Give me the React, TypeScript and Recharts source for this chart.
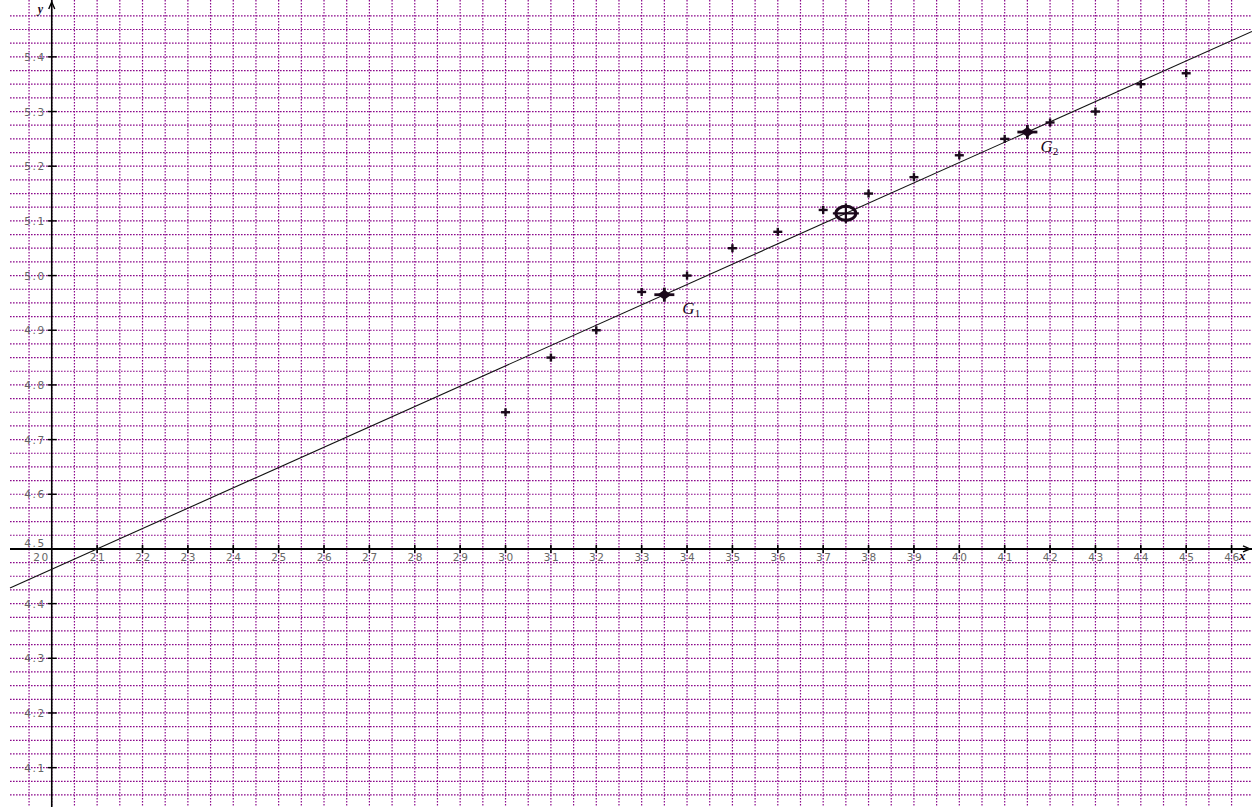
import React from 'react';
import { ScatterChart, Scatter, XAxis, YAxis, CartesianGrid, ReferenceLine, ReferenceDot } from 'recharts';

// observed points
const xValues = [30, 31, 32, 33, 34, 35, 36, 37, 38, 39, 40, 41, 42, 43, 44, 45];
const yValues = [4.75, 4.85, 4.9, 4.97, 5.0, 5.05, 5.08, 5.12, 5.15, 5.18, 5.22, 5.25, 5.28, 5.3, 5.35, 5.37];

const xTickLabels = [20, 21, 22, 23, 24, 25, 26, 27, 28, 29, 30, 31, 32, 33, 34, 35, 36, 37, 38, 39, 40, 41, 42, 43, 44, 45, 46];
const yTickLabels = [4.1, 4.2, 4.3, 4.4, 4.5, 4.6, 4.7, 4.8, 4.9, 5.0, 5.1, 5.2, 5.3, 5.4];

const X_MIN = 19.08;
const X_MAX = 46.45;
const Y_MIN = 4.028;
const Y_MAX = 5.504;
const ORIGIN_X = 20;
const ORIGIN_Y = 4.5;

const GRID = '#8c0a8c';
const INK = '#1a081a';
const LABEL = '#666';

const points = xValues.map((x, i) => ({ x, y: yValues[i] }));

const mean = (arr: { x: number; y: number }[]) => ({
  x: arr.reduce((s, p) => s + p.x, 0) / arr.length,
  y: arr.reduce((s, p) => s + p.y, 0) / arr.length,
});

const g1 = mean(points.slice(0, 8));
const g2 = mean(points.slice(8));
const g = mean(points);
const slope = (g2.y - g1.y) / (g2.x - g1.x);
const lineAt = (x: number) => g1.y + slope * (x - g1.x);

// dotted grid every 0.5 on x and 0.025 on y
const vGrid: number[] = [];
for (let k = 39; k <= 93; k++) vGrid.push(k / 2);
const hGrid: number[] = [];
for (let k = 162; k <= 219; k++) hGrid.push(Math.round(k * 25) / 1000);

const labelFont = { fontFamily: 'DejaVu Sans', fontSize: 10.5, fill: LABEL, letterSpacing: 1.6 };
const serif = { fontFamily: 'Liberation Serif', fontStyle: 'italic' as const };

const Cross = (props: any) => {
  const { cx, cy } = props;
  return (
    <g>
      <line x1={cx - 4.5} x2={cx + 4.5} y1={cy} y2={cy} stroke={INK} strokeWidth={2.4} />
      <line x1={cx} x2={cx} y1={cy - 4} y2={cy + 4} stroke={INK} strokeWidth={2.4} />
    </g>
  );
};

const bigMark = (name: string, sub: string, dx: number, dy: number) => (props: any) => {
  const { cx, cy } = props;
  return (
    <g>
      <line x1={cx - 10} x2={cx + 10} y1={cy} y2={cy} stroke={INK} strokeWidth={2.8} />
      <line x1={cx} x2={cx} y1={cy - 7} y2={cy + 7} stroke={INK} strokeWidth={2.8} />
      <path d={`M${cx - 7},${cy} L${cx},${cy - 5} L${cx + 7},${cy} L${cx},${cy + 5} Z`} fill={INK} />
      <text x={cx + dx} y={cy + dy} {...serif} fontSize={17} fill={INK}>
        {name}
        <tspan fontSize={11} dy={3} fontStyle="normal">{sub}</tspan>
      </text>
    </g>
  );
};

const meanMark = (props: any) => {
  const { cx, cy } = props;
  return (
    <g>
      <ellipse cx={cx} cy={cy} rx={10} ry={7} fill="none" stroke={INK} strokeWidth={3} />
      <line x1={cx - 13} x2={cx + 13} y1={cy} y2={cy} stroke={INK} strokeWidth={2.2} />
      <line x1={cx} x2={cx} y1={cy - 10} y2={cy + 10} stroke={INK} strokeWidth={2.2} />
    </g>
  );
};

const xTick = (v: number) => (props: any) => {
  const { cx, cy } = props;
  const first = v === ORIGIN_X;
  return (
    <g>
      {!first && <line x1={cx} x2={cx} y1={cy - 4} y2={cy + 4} stroke="#000" strokeWidth={1.6} />}
      <text x={first ? cx - 2 : cx + 1} y={cy + 12} textAnchor={first ? 'end' : 'middle'} {...labelFont}>
        {v}
      </text>
    </g>
  );
};

const yTick = (v: number) => (props: any) => {
  const { cx, cy } = props;
  const onAxis = v === ORIGIN_Y;
  return (
    <g>
      {!onAxis && <line x1={cx - 4} x2={cx + 5} y1={cy} y2={cy} stroke="#000" strokeWidth={1.4} />}
      <text x={cx - 6} y={onAxis ? cy - 2 : cy + 4} textAnchor="end" {...labelFont}>
        {v.toFixed(1)}
      </text>
    </g>
  );
};

const xArrow = (props: any) => {
  const { cx, cy } = props;
  const tip = cx - 2;
  return (
    <g>
      <path d={`M${tip - 7},${cy - 3} L${tip},${cy} L${tip - 7},${cy + 3}`} fill="none" stroke="#000" strokeWidth={1.4} />
      <text x={tip - 11} y={cy + 11} {...serif} fontWeight="bold" fontSize={13} fill={INK}>x</text>
    </g>
  );
};

const yArrow = (props: any) => {
  const { cx, cy } = props;
  const tip = cy + 2;
  return (
    <g>
      <path d={`M${cx - 3},${tip + 7} L${cx},${tip} L${cx + 3},${tip + 7}`} fill="none" stroke="#000" strokeWidth={1.4} />
      <text x={cx - 14} y={tip + 11} {...serif} fontWeight="bold" fontSize={12} fill={INK}>y</text>
    </g>
  );
};

export default function App() {
  return (
    <div style={{ position: 'absolute', left: 0, top: 0, background: '#fff' }}>
      <ScatterChart width={1252} height={807} margin={{ top: 0, right: 0, bottom: 0, left: 10 }}>
        <CartesianGrid
          stroke={GRID}
          strokeWidth={1.2}
          strokeDasharray="1.6 1.4"
          verticalValues={vGrid}
          horizontalValues={hGrid}
        />
        <XAxis type="number" dataKey="x" domain={[X_MIN, X_MAX]} allowDataOverflow hide interval={0} ticks={vGrid} />
        <YAxis type="number" dataKey="y" domain={[Y_MIN, Y_MAX]} allowDataOverflow hide interval={0} ticks={hGrid} />

        <ReferenceLine y={ORIGIN_Y} stroke="#000" strokeWidth={2} />
        <ReferenceLine x={ORIGIN_X} stroke="#000" strokeWidth={1.6} />
        <ReferenceLine
          segment={[
            { x: X_MIN, y: lineAt(X_MIN) },
            { x: X_MAX, y: lineAt(X_MAX) },
          ]}
          stroke="#111"
          strokeWidth={1.1}
        />

        {xTickLabels.map((v) => (
          <ReferenceDot key={`xt${v}`} x={v} y={ORIGIN_Y} r={0} shape={xTick(v)} />
        ))}
        {yTickLabels.map((v) => (
          <ReferenceDot key={`yt${v}`} x={ORIGIN_X} y={v} r={0} shape={yTick(v)} />
        ))}
        <ReferenceDot x={X_MAX} y={ORIGIN_Y} r={0} shape={xArrow} />
        <ReferenceDot x={ORIGIN_X} y={Y_MAX} r={0} shape={yArrow} />

        <Scatter data={points} shape={Cross} isAnimationActive={false} />

        <ReferenceDot x={g1.x} y={g1.y} r={0} shape={bigMark('G', '1', 18, 19)} />
        <ReferenceDot x={g2.x} y={g2.y} r={0} shape={bigMark('G', '2', 13, 20)} />
        <ReferenceDot x={g.x} y={g.y} r={0} shape={meanMark} />
      </ScatterChart>
    </div>
  );
}
